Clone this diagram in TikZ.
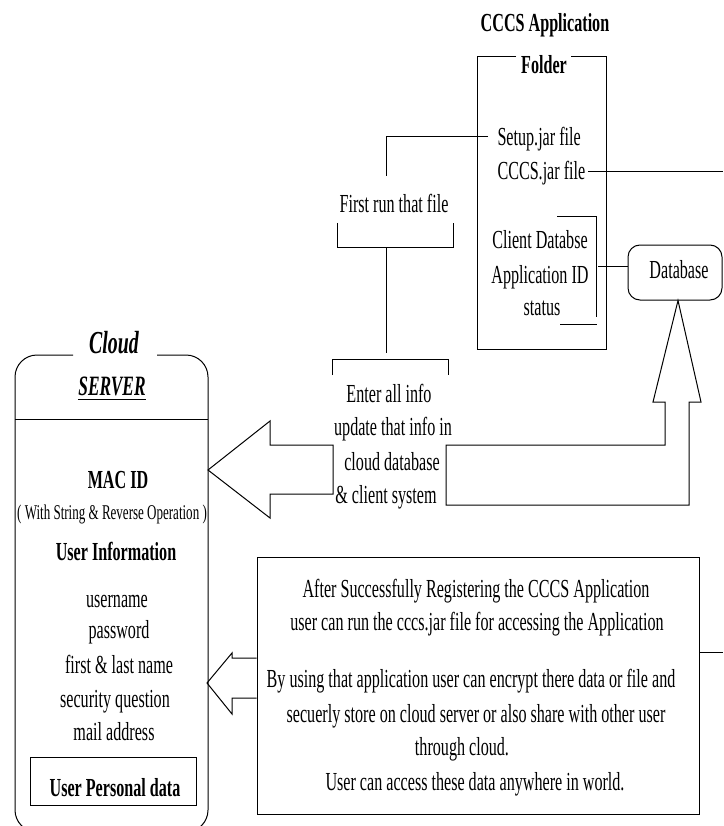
\documentclass[tikz,border=0pt]{standalone}
\usepackage{fontspec}
\setmainfont{Liberation Serif}[FakeStretch=0.62]
\begin{document}
\begin{tikzpicture}[x=1pt,y=-1pt, line width=1pt,
  txt/.style={inner sep=0pt, anchor=base, font=\fontsize{26}{34}\selectfont},
  btxt/.style={txt, font=\fontsize{26}{34}\selectfont\bfseries},
  stxt/.style={txt, font=\fontsize{21}{26}\selectfont},
  boxn/.style={draw, inner sep=0pt}]
\useasboundingbox (0,0) rectangle (723,826);
\fill[white] (0,0) rectangle (723,826);
\clip (0,0) rectangle (723,826);

% ---------- CCCS application folder ----------
\node[btxt] (title) at (545,32) {CCCS Application};
\node[btxt] (folder) at (544,74) {Folder};
\draw (516,57) -- (477,57) -- (477,349) -- (606,349) -- (606,57) -- (571,57);
\node[txt, anchor=base west] (setup) at (497,146) {Setup.jar file};
\node[txt, anchor=base west] (cccs) at (497,180) {CCCS.jar file};
\node[txt] (client) at (540,248) {Client Databse};
\node[txt] (appid) at (540,283) {Application ID};
\node[txt] (status) at (542,315) {status};
\draw (557,217) -- (596,217) -- (596,317);
\draw (560,324) -- (597,324);

% ---------- Database ----------
\node[boxn, rounded corners=12pt, minimum width=94pt, minimum height=55pt] (db) at (675,272.5) {};
\node[txt] (dbtxt) at (679,278) {Database};
\coordinate (cbr) at (598,266);
\draw (cbr) -- (db.west |- cbr);

% ---------- First run ----------
\node[txt] (first) at (394,213) {First run that file};
\coordinate (fr1) at (386,176);
\draw ([xshift=-9pt,yshift=3pt]setup.west) -| (fr1);
\draw (337,223) |- (453,247) -- (453,223);
\draw (386,247) -- (386,353);
\draw (332,375) |- (448,359) -- (448,375);

% ---------- Enter all info ----------
\node[txt] (e1) at (389,402) {Enter all info};
\node[txt] (e2) at (393,435) {update that info in};
\node[txt] (e3) at (392,470) {cloud database};
\node[txt] (e4) at (386,503) {\& client system};

% right edge connectors
\coordinate (redge1) at (723,172);
\coordinate (redge2) at (723,652);
\draw ([xshift=2pt]cccs.east |- redge1) -- (redge1);

% ---------- block arrows ----------
\draw (333,445) -- (270,445) -- (270,421) -- (208,470) -- (270,518) -- (270,494) -- (333,494) -- cycle;
\draw (446,445) -- (665,445) -- (665,402) -- (653,402) -- (db.south -| 678,0) -- (701,402) -- (689,402) -- (689,505) -- (446,505) -- cycle;

% ---------- Cloud server ----------
\draw[rounded corners=22pt] (73,355) -- (15,355) -- (15,832) -- (208,832) -- (208,355) -- (157,355);
\draw (15,419) -- (208,419);
\node[txt, font=\fontsize{32}{34}\selectfont\bfseries\itshape] (cloud) at (114,353) {Cloud};
\node[txt, font=\fontsize{28}{34}\selectfont\bfseries\itshape] (server) at (112,395) {SERVER};
\draw ([yshift=-4pt]server.base west) -- ([yshift=-4pt]server.base east);
\node[btxt] (mac) at (118,488) {MAC ID};
\node[stxt] (paren) at (112,519) {( With String \& Reverse Operation )};
\node[btxt] (uinfo) at (116,560) {User Information};
\node[txt] (u1) at (117,607) {username};
\node[txt] (u2) at (119,638) {password};
\node[txt] (u3) at (119,673) {first \& last name};
\node[txt] (u4) at (115,707) {security question};
\node[txt] (u5) at (114,740) {mail address};
\node[boxn, minimum width=166pt, minimum height=48pt] (upd) at (113,781) {};
\node[btxt] (updtxt) at (115,796) {User Personal data};

% ---------- info box ----------
\node[boxn, minimum width=442pt, minimum height=257pt] (infobox) at (478,685.5) {};
\node[txt] (i1) at (476,597) {After Successfully Registering the CCCS Application};
\node[txt] (i2) at (477,630) {user can run the cccs.jar file for accessing the Application};
\node[txt] (i3) at (471,687) {By using that application user can encrypt there data or file and};
\node[txt] (i4) at (476,722) {secuerly store on cloud server or also share with other user};
\node[txt] (i5) at (462,755) {through cloud.};
\node[txt] (i6) at (475,790) {User can access these data anywhere in world.};
\draw (infobox.east |- redge2) -- (redge2);
\draw (infobox.west |- 0,658) -- (232,658) -- (232,653) -- (207,683) -- (232,714) -- (232,698) -- (infobox.west |- 0,698);
\end{tikzpicture}
\end{document}
